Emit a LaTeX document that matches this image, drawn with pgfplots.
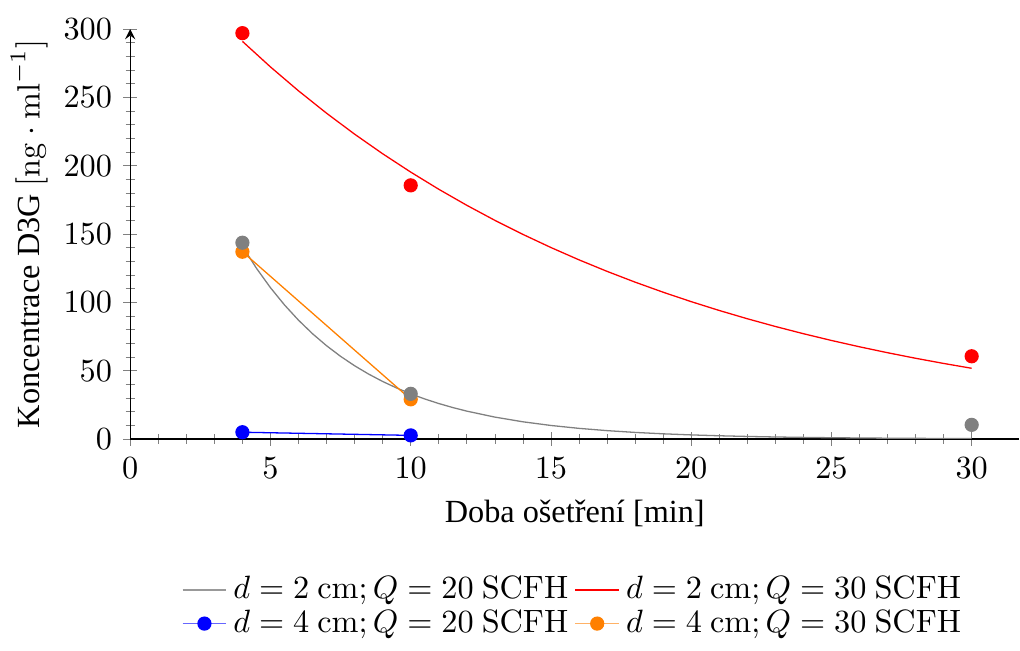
\documentclass[border=0pt]{standalone}
\usepackage[no-math]{fontspec}
\setmainfont{Liberation Serif}
\usepackage{pgfplots}
\pgfplotsset{compat=1.18}
\begin{document}
\begin{tikzpicture}
\begin{axis}[
  scale only axis, width=275.5pt, height=127pt,
  axis lines=left, x axis line style={-},
  xmin=0, xmax=31.7, ymin=0, ymax=300,
  xtick={0,5,...,30}, ytick={0,50,...,300},
  minor tick num=4, tick align=center,
  xlabel={Doba ošetření [min]},
  ylabel={Koncentrace D3G $[\mathrm{ng}\cdot\mathrm{ml}^{-1}]$},
  ylabel style={yshift=-2pt},
  legend columns=2,
  legend style={draw=none, at={(0.5,-0.302)}, anchor=north, row sep=-2pt},
  legend cell align=left,
]
\addlegendimage{legend image code/.code={\draw[gray!80] (0pt,0pt) -- (13.5pt,0pt);}}
\addlegendentry{$d = 2~\mathrm{cm}; Q = 20~\mathrm{SCFH}$}
\addlegendimage{legend image code/.code={\draw[red] (0pt,0pt) -- (13.5pt,0pt);}}
\addlegendentry{$d = 2~\mathrm{cm}; Q = 30~\mathrm{SCFH}$}
\addlegendimage{legend image code/.code={\draw[blue!60] (0pt,0pt) -- (13.5pt,0pt); \fill[blue] (6.75pt,0pt) circle (2pt);}}
\addlegendentry{$d = 4~\mathrm{cm}; Q = 20~\mathrm{SCFH}$}
\addlegendimage{legend image code/.code={\draw[orange!60] (0pt,0pt) -- (13.5pt,0pt); \fill[orange] (6.75pt,0pt) circle (2pt);}}
\addlegendentry{$d = 4~\mathrm{cm}; Q = 30~\mathrm{SCFH}$}
% fitted curve, d=2 cm, Q=20 SCFH
\addplot[color=gray, no marks, forget plot] coordinates {
(4,141.0)(4.5,124.93)(5,110.69)(5.5,98.08)(6,86.90)(6.5,77.00)(7,68.22)(7.5,60.45)
(8,53.56)(8.5,47.46)(9,42.05)(9.5,37.26)(10,33.01)(10.5,29.25)(11,25.92)(11.5,22.96)
(12,20.35)(13,15.97)(14,12.54)(15,9.85)(16,7.73)(17,6.07)(18,4.76)(19,3.74)(20,2.94)
(21,2.31)(22,1.81)(23,1.42)(24,1.11)(25,0.88)(26,0.69)(27,0.54)(28,0.42)(29,0.33)(30,0.26)};
% fitted curve, d=2 cm, Q=30 SCFH
\addplot[color=red, no marks, forget plot] coordinates {
(4,291.0)(5,272.29)(6,254.78)(7,238.40)(8,223.07)(9,208.73)(10,195.31)(11,182.75)
(12,171.00)(13,160.00)(14,149.71)(15,140.09)(16,131.08)(17,122.65)(18,114.76)(19,107.38)
(20,100.48)(21,94.02)(22,87.97)(23,82.31)(24,77.02)(25,72.07)(26,67.44)(27,63.10)
(28,59.04)(29,55.25)(30,51.70)};
\addplot[color=blue, mark=*, forget plot] coordinates {(4,4.9)(10,2.6)};
\addplot[color=orange, mark=*, forget plot] coordinates {(4,137)(10,29)};
% measured points
\addplot[color=gray, only marks, mark=*, forget plot] coordinates {(4,143.6)(10,33)(30,10.3)};
\addplot[color=red, only marks, mark=*, forget plot] coordinates {(4,297)(10,185.6)(30,60.5)};
\end{axis}
\path ([yshift=9pt]current axis.north west);
\end{tikzpicture}
\end{document}
